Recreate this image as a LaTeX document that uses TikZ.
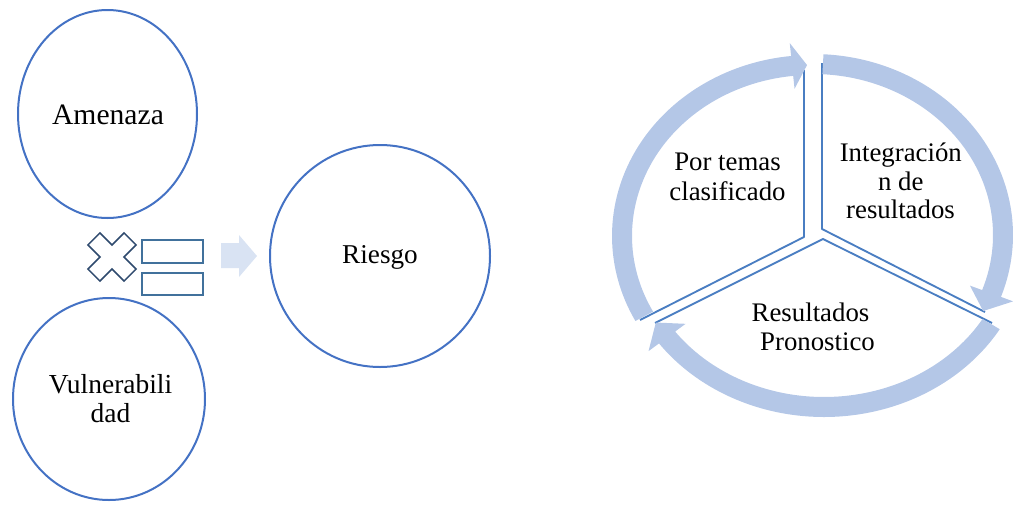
\documentclass[tikz,border=0pt]{standalone}
\usepackage{fontspec}
\setmainfont{Liberation Serif}
\usetikzlibrary{shapes.geometric}
\definecolor{circblue}{HTML}{4472C4}
\definecolor{secblue}{HTML}{4A7EC2}
\definecolor{ringc}{HTML}{B4C7E7}
\definecolor{smallarr}{HTML}{D9E3F3}
\definecolor{crossc}{HTML}{2F4A6E}
\definecolor{eqc}{HTML}{41719C}
\begin{document}
\begin{tikzpicture}[x=0.75pt,y=-0.75pt,
  lbl/.style={anchor=base, inner sep=0pt, font=\fontsize{20.1}{22}\selectfont},
  bubble/.style={draw=circblue, line width=1.5pt, ellipse, inner sep=0pt},
  secline/.style={draw=secblue, line width=1.4pt, line join=round},
  ringarrow/.style={fill=ringc},
  eqbar/.style={draw=eqc, line width=1.5pt, fill=white}]
\useasboundingbox (0,0) rectangle (1013,504);

% ---- left part ----
\node[bubble, minimum width=134.25pt, minimum height=156pt] (amen) at (107.5,114) {};
\node[bubble, minimum width=144pt, minimum height=151.5pt] (vuln) at (109,399) {};
\node[bubble, minimum width=165pt, minimum height=166.5pt] (ries) at (380,256) {};

\node[lbl, font=\fontsize{22.2}{24}\selectfont] (tamen) at (108,124) {Amenaza};
\node[lbl, font=\fontsize{20.6}{22}\selectfont] (tvul1) at (110.5,393.3) {Vulnerabili};
\node[lbl, font=\fontsize{20.6}{22}\selectfont] (tvul2) at (110.5,422.7) {dad};
\node[lbl, font=\fontsize{20.4}{22}\selectfont] (tries) at (380,263.3) {Riesgo};

% multiplication sign
\begin{scope}[shift={(112,257)}, rotate=45]
  \draw[crossc, line width=1.1pt, fill=white, line join=miter]
    (-8.5,-25.5) -- (8.5,-25.5) -- (8.5,-8.5) -- (25.5,-8.5) -- (25.5,8.5) -- (8.5,8.5)
    -- (8.5,25.5) -- (-8.5,25.5) -- (-8.5,8.5) -- (-25.5,8.5) -- (-25.5,-8.5) -- (-8.5,-8.5) -- cycle;
\end{scope}
% equals sign
\node[eqbar, minimum width=45.75pt, minimum height=17.25pt, inner sep=0pt] (eq1) at (172.5,251.5) {};
\node[eqbar, minimum width=45.75pt, minimum height=16.5pt, inner sep=0pt] (eq2) at (172.5,284) {};
% small block arrow
\fill[smallarr] (221,243) -- (239,243) -- (239,235) -- (257,256) -- (239,277) -- (239,268) -- (221,268) -- cycle;

% ---- cycle ----
\draw[secline] (804,70) -- (804,237) -- (640,320);
\draw[secline] (822,63) -- (822,229) -- (985,312);
\draw[secline] (655,323) -- (823,239) -- (992,323);

\begin{scope}[shift={(812,236)}]
\fill[ringarrow] (152:200 and 181) arc[start angle=152, end angle=264, x radius=200, y radius=181]
  -- (264:213 and 194) -- (268.5:190 and 171) -- (264:167 and 148) -- (264:180 and 161)
  arc[start angle=264, end angle=152, x radius=180, y radius=161] -- cycle;
\end{scope}
\begin{scope}[shift={(813,235)}]
\fill[ringarrow] (273:200 and 181) arc[start angle=273, end angle=380, x radius=200, y radius=181]
  -- (380:213 and 194) -- (386.4:190 and 171) -- (380:167 and 148) -- (380:180 and 161)
  arc[start angle=380, end angle=273, x radius=180, y radius=161] -- cycle;
\end{scope}
\begin{scope}[shift={(824,236)}]
\fill[ringarrow] (31:205 and 181) arc[start angle=31, end angle=143.6, x radius=205, y radius=181]
  -- (143.6:218 and 194) -- (149.6:195 and 171) -- (143.6:172 and 148) -- (143.6:185 and 161)
  arc[start angle=143.6, end angle=31, x radius=185, y radius=161] -- cycle;
\end{scope}

\node[lbl] (tpor1) at (727.5,170) {Por temas};
\node[lbl] (tpor2) at (727.5,200) {clasificado};
\node[lbl] (tint1) at (900.8,161.7) {Integración};
\node[lbl] (tint2) at (900.8,190) {n de};
\node[lbl] (tint3) at (900.5,218.3) {resultados};
\node[lbl] (tres1) at (810.5,321.7) {Resultados};
\node[lbl] (tres2) at (817.5,350) {Pronostico};
\end{tikzpicture}
\end{document}
